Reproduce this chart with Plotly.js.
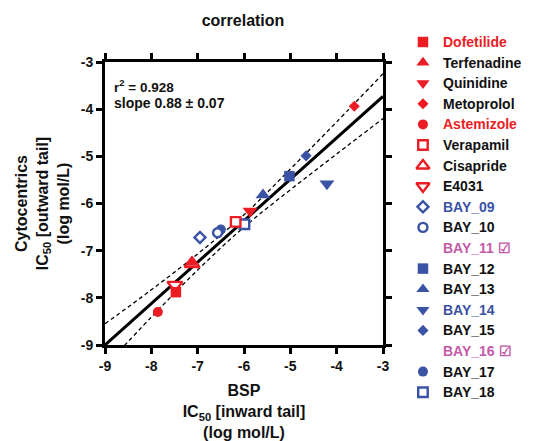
<!DOCTYPE html>
<html><head><meta charset="utf-8">
<script src="https://cdn.plot.ly/plotly-3.0.1.min.js"></script>
<style>html,body{margin:0;padding:0;background:#fff}#chart{width:536px;height:441px}</style>
</head><body><div id="chart"></div>
<script>
const compounds = ['Dofetilide','Terfenadine','Quinidine','Metoprolol','Astemizole','Verapamil','Cisapride','E4031','BAY_09','BAY_10','BAY_11','BAY_12','BAY_13','BAY_14','BAY_15','BAY_16','BAY_17','BAY_18'];
const bspIC50  = [-7.47,-7.13,-5.87,-3.62,-7.86,-6.18,-7.12,-7.49,-6.95,-6.57,null,-5.02,-5.59,-4.21,-4.66,null,-6.50,-5.99];
const cytoIC50 = [-7.88,-7.25,-6.16,-3.94,-8.30,-6.39,-7.28,-7.73,-6.72,-6.62,null,-5.42,-5.82,-5.58,-4.99,null,-6.55,-6.44];
const symbols  = ['square','triangle-up','triangle-down','diamond','circle','square-open','triangle-up-open','triangle-down-open','diamond-open','circle-open',null,'square','triangle-up','triangle-down','diamond',null,'circle','square-open'];
const groups   = ['ref','ref','ref','ref','ref','ref','ref','ref','bay','bay','bay','bay','bay','bay','bay','bay','bay','bay'];
const labelKind= ['red','black','black','black','red','black','black','black','blue','black','pink','black','black','blue','black','pink','black','black'];
const excluded = [false,false,false,false,false,false,false,false,false,false,true,false,false,false,false,true,false,false];

const fitX = [-9, -3];
const fitY = [-9.0, -3.73];
const bandX = [-9, -8, -7, -6, -5, -4, -3];
const bandUpper = [-8.55, -7.83, -7.07, -6.24, -5.27, -4.27, -3.25];
const bandLower = [-9.45, -8.41, -7.41, -6.50, -5.71, -4.95, -4.20];

const tickVals = [-9, -8, -7, -6, -5, -4, -3];
const tickText = ['-9', '-8', '-7', '-6', '-5', '-4', '-3'];

const COL = {red:'#ec1c24', blue:'#3a53a4', pink:'#c45aa8', black:'#111111'};
const FONT = 'Liberation Sans, Arial, sans-serif';

function markerSize(sym, legend){
  if(!sym) return 0;
  if(sym.indexOf('triangle')===0) return legend ? 11.5 : 13;
  if(sym.indexOf('diamond')===0) return 8.5;
  if(sym.indexOf('circle')===0) return sym.indexOf('open')>0 ? 9 : 10;
  return sym.indexOf('open')>0 ? 9.5 : 10.5;
}
function markerFor(i, legend){
  const sym = symbols[i];
  const c = groups[i]==='ref' ? COL.red : COL.blue;
  const open = sym && sym.indexOf('-open')>0;
  return {
    symbol: open ? sym.replace('-open','') : (sym || 'circle'),
    size: markerSize(sym, legend),
    color: open ? '#ffffff' : c,
    opacity: sym ? 1 : 0,
    line: {color: c, width: open ? 2.4 : 0}
  };
}

const traces = [];
traces.push({x: bandX, y: bandUpper, mode:'lines', line:{color:'#000', width:1.3, dash:'4px,3px', shape:'spline'}, hoverinfo:'skip', showlegend:false});
traces.push({x: bandX, y: bandLower, mode:'lines', line:{color:'#000', width:1.3, dash:'4px,3px', shape:'spline'}, hoverinfo:'skip', showlegend:false});
traces.push({x: fitX, y: fitY, mode:'lines', line:{color:'#000', width:3}, hoverinfo:'skip', showlegend:false});

for(let i=compounds.length-1;i>=0;i--){
  if(bspIC50[i]===null) continue;
  traces.push({x:[bspIC50[i]], y:[cytoIC50[i]], mode:'markers', name:compounds[i],
    marker: markerFor(i, false), showlegend:false, cliponaxis:false});
}

const legendRows = compounds.map((_,i)=>i);
for(let i=0;i<compounds.length;i++){
  if(!symbols[i]) continue;
  traces.push({x:[0], y:[legendRows[i]], xaxis:'x2', yaxis:'y2', mode:'markers',
    marker: markerFor(i, true), showlegend:false, hoverinfo:'skip', cliponaxis:false});
}

const annotations = compounds.map((n,i)=>({
  xref:'x2', yref:'y2', x:18, y:legendRows[i], xanchor:'left', yanchor:'middle', showarrow:false,
  text:'<b>'+n+(excluded[i]?' \u2611':'')+'</b>',
  font:{family:FONT, size:14, color:COL[labelKind[i]]}
}));
annotations.push({xref:'x', yref:'y', x:-8.85, y:-3.5, xanchor:'left', yanchor:'middle', showarrow:false,
  text:'<b>r<sup>2</sup> = 0.928</b>', font:{family:FONT, size:13.5, color:'#111'}});
annotations.push({xref:'x', yref:'y', x:-8.85, y:-3.87, xanchor:'left', yanchor:'middle', showarrow:false,
  text:'<b>slope 0.88 \u00b1 0.07</b>', font:{family:FONT, size:14, color:'#111'}});

const axisCommon = {
  range:[-9,-3], tickvals:tickVals, ticktext:tickText.map(t=>'<b>'+t+'</b>'), showgrid:false, zeroline:false,
  showline:true, linewidth:3, linecolor:'#000', mirror:'ticks', ticks:'outside', ticklen:6, tickwidth:3, tickcolor:'#000',
  tickfont:{family:FONT, size:14, color:'#111'}, fixedrange:true, automargin:false
};

const layout = {
  width:536, height:441, margin:{l:0,r:0,t:0,b:0}, paper_bgcolor:'#fff', plot_bgcolor:'#fff',
  showlegend:false,
  title:{text:'<b>correlation</b>', x:243/536, xanchor:'center', xref:'paper', y:1-20/441, yanchor:'middle', yref:'container',
    font:{family:FONT, size:16, color:'#111'}},
  xaxis: Object.assign({}, axisCommon, {domain:[105/536, 383/536], anchor:'y',
    title:{text:'<b>BSP<br>IC<sub>50</sub> [inward tail]<br>(log mol/L)</b>', font:{family:FONT, size:16, color:'#111'}, standoff:14}}),
  yaxis: Object.assign({}, axisCommon, {domain:[(441-345)/441, (441-62)/441], anchor:'x',
    title:{text:'<b>Cytocentrics<br>IC<sub>50</sub> [outward tail]<br>(log mol/L)</b>', font:{family:FONT, size:16, color:'#111'}, standoff:8}}),
  xaxis2:{domain:[0.76,1], range:[-15.6,113], visible:false, anchor:'y2', fixedrange:true},
  yaxis2:{domain:[0,1], range:[(441-42)/20.6, -42/20.6], visible:false, anchor:'x2', fixedrange:true},
  annotations: annotations
};

Plotly.newPlot('chart', traces, layout, {staticPlot:true, displayModeBar:false});
</script>
</body></html>
